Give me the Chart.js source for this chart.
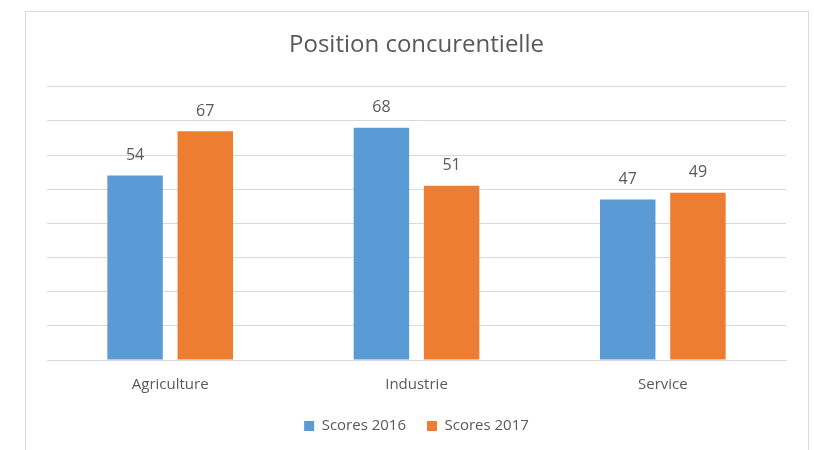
<!DOCTYPE html>
<html>
<head>
<meta charset="utf-8">
<script src="https://cdn.jsdelivr.net/npm/chart.js@4"></script>
<style>
  html, body { margin: 0; padding: 0; background: #fff; }
  #wrap { position: relative; width: 814px; height: 450px; overflow: hidden; }
  #frame { position: absolute; left: 25px; top: 11px; width: 782px; height: 460px; border: 1px solid #d9d9d9; border-bottom: none; }
  canvas { position: absolute; left: 0; top: 0; }
</style>
</head>
<body>
<div id="wrap">
  <div id="frame"></div>
  <canvas id="barChart" width="814" height="450"></canvas>
</div>
<script>
// données
const categories = ['Agriculture', 'Industrie', 'Service'];
const scores2016 = [54, 68, 47];
const scores2017 = [67, 51, 49];
const seriesNames = ['Scores 2016', 'Scores 2017'];

const textColor = '#595959';
const fontFamily = "'Open Sans', 'Noto Sans', sans-serif";

// valeurs au-dessus des barres
const valueLabels = {
  id: 'valueLabels',
  afterDatasetsDraw(chart) {
    const ctx = chart.ctx;
    ctx.save();
    ctx.font = '16px ' + fontFamily;
    ctx.fillStyle = textColor;
    ctx.textAlign = 'center';
    ctx.textBaseline = 'middle';
    chart.data.datasets.forEach((ds, i) => {
      chart.getDatasetMeta(i).data.forEach((bar, j) => {
        ctx.fillText(ds.data[j], bar.x, bar.y - 20);
      });
    });
    ctx.restore();
  }
};

const ctx = document.getElementById('barChart').getContext('2d');
new Chart(ctx, {
  type: 'bar',
  data: {
    labels: categories,
    datasets: [
      { label: seriesNames[0], data: scores2016, backgroundColor: '#5B9BD5' },
      { label: seriesNames[1], data: scores2017, backgroundColor: '#ED7D31' }
    ]
  },
  options: {
    responsive: false,
    animation: false,
    categoryPercentage: 0.57,
    barPercentage: 0.79,
    layout: { padding: { left: 47, right: 28, top: 14, bottom: 6.5 } },
    scales: {
      x: {
        grid: { display: false, drawTicks: false },
        border: { color: '#d9d9d9', width: 1 },
        ticks: { color: textColor, font: { family: fontFamily, size: 15 }, padding: 16 },
        // hauteur fixe pour laisser la légende un peu plus aérée
        afterFit(scale) { scale.height = 37.5; }
      },
      y: {
        min: 0, max: 80,
        ticks: { display: false, stepSize: 10 },
        grid: { color: '#d9d9d9', lineWidth: 1, drawTicks: false },
        border: { display: false }
      }
    },
    plugins: {
      title: {
        display: true,
        text: 'Position concurentielle',
        color: textColor,
        font: { family: fontFamily, size: 24, weight: 'normal' },
        padding: { top: 17, bottom: 27 }
      },
      legend: {
        position: 'bottom',
        labels: {
          color: textColor,
          boxWidth: 10, boxHeight: 10,
          padding: 21,
          font: { family: fontFamily, size: 15 }
        }
      },
      tooltip: { enabled: false }
    }
  },
  plugins: [valueLabels]
});
</script>
</body>
</html>
